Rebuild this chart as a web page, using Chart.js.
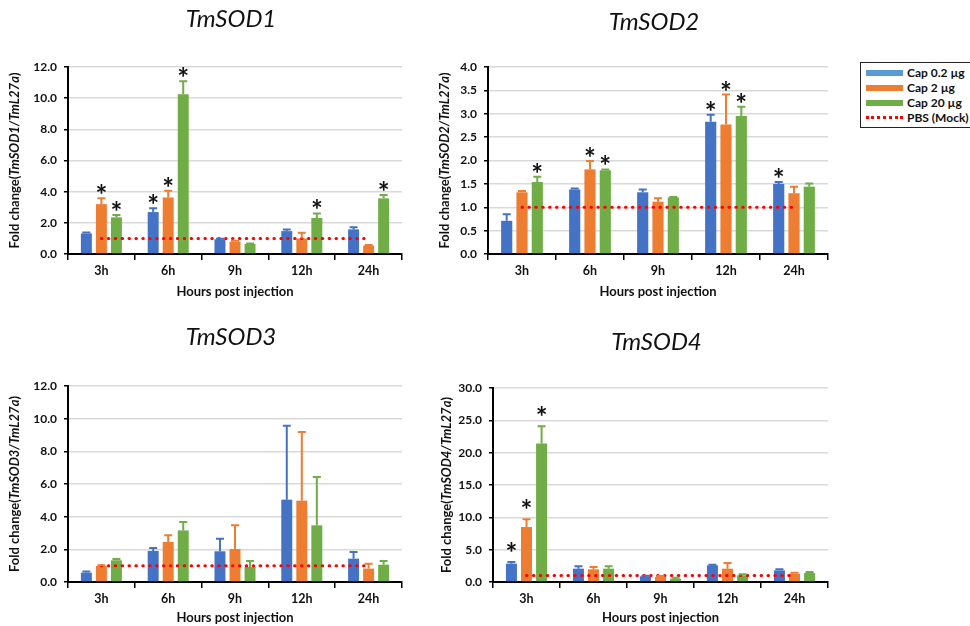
<!DOCTYPE html>
<html>
<head>
<meta charset="utf-8">
<script src="https://cdn.jsdelivr.net/npm/chart.js@4.4.0/dist/chart.umd.min.js"></script>
<style>
  html, body { margin: 0; padding: 0; background: #fff; overflow: hidden; }
  #wrap { position: relative; width: 970px; height: 626px; }
  canvas { position: absolute; }
  #legend {
    position: absolute; left: 860px; top: 62px; width: 118px; height: 66px;
    border: 1px solid #222; box-sizing: border-box;
    font: bold 12px Lato, sans-serif; color: #111;
  }
  .item { position: absolute; left: 5px; height: 15px; line-height: 15px; }
  .sw { position: absolute; left: 0; top: 5px; width: 37px; height: 6px; }
  .item span { position: absolute; left: 41px; white-space: nowrap; }
</style>
</head>
<body>
<div id="wrap">
  <canvas id="c1" width="420" height="310" style="left:0;top:0"></canvas>
  <canvas id="c2" width="420" height="310" style="left:420px;top:0"></canvas>
  <canvas id="c3" width="420" height="316" style="left:0;top:310px"></canvas>
  <canvas id="c4" width="420" height="316" style="left:420px;top:310px"></canvas>
  <div id="legend">
    <div class="item" style="top:2px"><div class="sw" style="background:#5B9BD5"></div><span>Cap 0.2 µg</span></div>
    <div class="item" style="top:17px"><div class="sw" style="background:#ED7D31"></div><span>Cap 2 µg</span></div>
    <div class="item" style="top:32px"><div class="sw" style="background:#70AD47"></div><span>Cap 20 µg</span></div>
    <div class="item" style="top:47px"><div class="sw" style="height:0;top:6px;border-top:3px dotted #FF0000"></div><span>PBS (Mock)</span></div>
  </div>
</div>
<script>
// --- data (mean fold change, upper SE) ---
const hours = ["3h", "6h", "9h", "12h", "24h"];
const doses = ["Cap 0.2 µg", "Cap 2 µg", "Cap 20 µg"];
const mock = [1, 1, 1, 1, 1];

const sod1_low = [1.32, 2.69, 0.94, 1.47, 1.58];
const sod1_low_se = [0.06, 0.24, 0.04, 0.11, 0.13];
const sod1_mid = [3.20, 3.63, 0.79, 1.00, 0.53];
const sod1_mid_se = [0.37, 0.43, 0.06, 0.37, 0.05];
const sod1_high = [2.35, 10.25, 0.64, 2.31, 3.57];
const sod1_high_se = [0.15, 0.83, 0.03, 0.29, 0.21];
const sod1_sig = [[0, 1, 0, 0, 0], [1, 1, 0, 0, 0], [1, 1, 0, 1, 1]];

const sod2_low = [0.71, 1.38, 1.32, 2.83, 1.50];
const sod2_low_se = [0.14, 0.02, 0.06, 0.15, 0.04];
const sod2_mid = [1.32, 1.81, 1.12, 2.77, 1.30];
const sod2_mid_se = [0.03, 0.18, 0.07, 0.64, 0.14];
const sod2_high = [1.54, 1.79, 1.21, 2.95, 1.44];
const sod2_high_se = [0.11, 0.02, 0.01, 0.20, 0.07];
const sod2_sig = [[0, 0, 0, 1, 1], [0, 1, 0, 1, 0], [1, 1, 0, 1, 0]];

const sod3_low = [0.57, 1.90, 1.88, 5.04, 1.43];
const sod3_low_se = [0.08, 0.18, 0.77, 4.53, 0.41];
const sod3_mid = [0.98, 2.45, 2.02, 4.98, 0.82];
const sod3_mid_se = [0.04, 0.41, 1.45, 4.20, 0.30];
const sod3_high = [1.33, 3.16, 0.92, 3.47, 1.06];
const sod3_high_se = [0.08, 0.51, 0.37, 2.96, 0.23];
const sod3_sig = [[0, 0, 0, 0, 0], [0, 0, 0, 0, 0], [0, 0, 0, 0, 0]];

const sod4_low = [2.84, 2.06, 0.88, 2.58, 1.80];
const sod4_low_se = [0.26, 0.36, 0.07, 0.10, 0.16];
const sod4_mid = [8.50, 1.96, 0.77, 2.06, 1.29];
const sod4_mid_se = [1.20, 0.36, 0.16, 0.88, 0.15];
const sod4_high = [21.4, 2.06, 0.52, 1.03, 1.39];
const sod4_high_se = [2.70, 0.36, 0.15, 0.15, 0.16];
const sod4_sig = [[1, 0, 0, 0, 0], [1, 0, 0, 0, 0], [1, 0, 0, 0, 0]];

const colors = ["#4472C4", "#ED7D31", "#70AD47"];
const FONT = "Lato, 'Liberation Sans', sans-serif";

// error bars, asterisks, titles and the mixed italic y title
const extrasPlugin = {
  id: "extras",
  afterDatasetsDraw(chart, args, o) {
    const { ctx } = chart;
    const y = chart.scales.y;
    chart.data.datasets.forEach((ds, i) => {
      if (!ds.errors) return;
      const meta = chart.getDatasetMeta(i);
      meta.data.forEach((bar, k) => {
        const top = y.getPixelForValue(ds.data[k] + ds.errors[k]);
        ctx.save();
        ctx.strokeStyle = ds.backgroundColor;
        ctx.lineWidth = 2;
        ctx.beginPath();
        ctx.moveTo(bar.x, bar.y);
        ctx.lineTo(bar.x, top);
        ctx.moveTo(bar.x - 4, top);
        ctx.lineTo(bar.x + 4, top);
        ctx.stroke();
        if (ds.sig && ds.sig[k]) {
          ctx.font = "bold 28px " + FONT;
          ctx.fillStyle = "#111";
          ctx.textAlign = "center";
          ctx.textBaseline = "alphabetic";
          const m = ctx.measureText("*");
          const cy = top - o.starGap - 6;
          const base = cy + (m.actualBoundingBoxAscent - m.actualBoundingBoxDescent) / 2;
          ctx.fillText("*", bar.x, base);
        }
        ctx.restore();
      });
    });
  },
  afterDraw(chart, args, o) {
    const { ctx, chartArea } = chart;
    const cx = (chartArea.left + chartArea.right) / 2;
    ctx.save();
    ctx.fillStyle = "#111";
    ctx.textAlign = "center";
    ctx.textBaseline = "middle";
    ctx.font = "italic 24px " + FONT;
    ctx.fillText(o.title, cx - 4, o.titleY);
    ctx.font = "bold 13px " + FONT;
    ctx.fillText("Hours post injection", cx, o.xTitleY);

    // rotated y title: "Fold change(" + italic gene ratio + ")"
    const parts = [
      ["bold 13px " + FONT, "Fold change("],
      ["italic bold 13px " + FONT, o.ratio],
      ["bold 13px " + FONT, ")"]
    ];
    let total = 0;
    parts.forEach(p => { ctx.font = p[0]; total += ctx.measureText(p[1]).width; });
    ctx.translate(o.yTitleX, (chartArea.top + chartArea.bottom) / 2);
    ctx.rotate(-Math.PI / 2);
    ctx.textAlign = "left";
    let x = -total / 2;
    parts.forEach(p => {
      ctx.font = p[0];
      ctx.fillText(p[1], x, 0);
      x += ctx.measureText(p[1]).width;
    });
    ctx.restore();
  }
};

function makeChart(id, title, ratio, low, lowSe, mid, midSe, high, highSe, sig, box) {
  const vals = [low, mid, high];
  const ses = [lowSe, midSe, highSe];
  const bars = doses.map((d, i) => ({
    type: "bar",
    label: d,
    data: vals[i],
    errors: ses[i],
    sig: sig[i],
    backgroundColor: colors[i],
    borderWidth: 0,
    categoryPercentage: 0.675,
    barPercentage: 0.73,
    order: 1
  }));
  const line = {
    type: "line",
    label: "PBS (Mock)",
    data: mock,
    borderColor: "#FF0000",
    borderWidth: 3,
    borderDash: [0.5, 6.4],
    borderCapStyle: "round",
    pointRadius: 0,
    fill: false,
    order: 0
  };
  const canvas = document.getElementById(id);
  return new Chart(canvas, {
    data: { labels: hours, datasets: [line, ...bars] },
    options: {
      responsive: false,
      animation: false,
      layout: { padding: { top: box.top, left: 0, right: canvas.width - box.right, bottom: 0 } },
      plugins: {
        legend: { display: false },
        tooltip: { enabled: false },
        extras: {
          title, ratio,
          titleY: box.titleY, xTitleY: box.xTitleY, yTitleX: box.yTitleX,
          starGap: box.starGap
        }
      },
      scales: {
        x: {
          afterFit: (s) => { s.height = canvas.height - box.bottom; },
          grid: { drawOnChartArea: false, tickLength: 6, tickColor: "#000", lineWidth: 1.5 },
          border: { color: "#000", width: 2 },
          ticks: { color: "#111", font: { family: FONT, size: 12.5, weight: "bold" }, padding: 3 }
        },
        y: {
          min: 0, max: box.max,
          afterFit: (s) => { s.width = box.left; },
          grid: { color: "#d9d9d9", lineWidth: 1.5, tickLength: 4, tickColor: "#000" },
          border: { color: "#000", width: 2 },
          ticks: {
            stepSize: box.step,
            color: "#111",
            padding: 7,
            font: { family: FONT, size: 12, weight: "bold" },
            callback: (v) => Number(v).toFixed(1)
          }
        }
      }
    },
    plugins: [extrasPlugin]
  });
}

makeChart("c1", "TmSOD1", "TmSOD1/TmL27a", sod1_low, sod1_low_se, sod1_mid, sod1_mid_se, sod1_high, sod1_high_se, sod1_sig,
  { left: 68, right: 402, top: 67, bottom: 254, max: 12, step: 2, titleY: 19, xTitleY: 292, yTitleX: 15, starGap: 3 });
makeChart("c2", "TmSOD2", "TmSOD2/TmL27a", sod2_low, sod2_low_se, sod2_mid, sod2_mid_se, sod2_high, sod2_high_se, sod2_sig,
  { left: 68, right: 408, top: 67, bottom: 254, max: 4, step: 0.5, titleY: 22, xTitleY: 292, yTitleX: 25, starGap: 3 });
makeChart("c3", "TmSOD3", "TmSOD3/TmL27a", sod3_low, sod3_low_se, sod3_mid, sod3_mid_se, sod3_high, sod3_high_se, sod3_sig,
  { left: 68, right: 402, top: 76, bottom: 272, max: 12, step: 2, titleY: 27, xTitleY: 308, yTitleX: 15, starGap: 3 });
makeChart("c4", "TmSOD4", "TmSOD4/TmL27a", sod4_low, sod4_low_se, sod4_mid, sod4_mid_se, sod4_high, sod4_high_se, sod4_sig,
  { left: 73, right: 408, top: 78, bottom: 272, max: 30, step: 5, titleY: 32, xTitleY: 308, yTitleX: 27, starGap: 9 });
</script>
</body>
</html>
